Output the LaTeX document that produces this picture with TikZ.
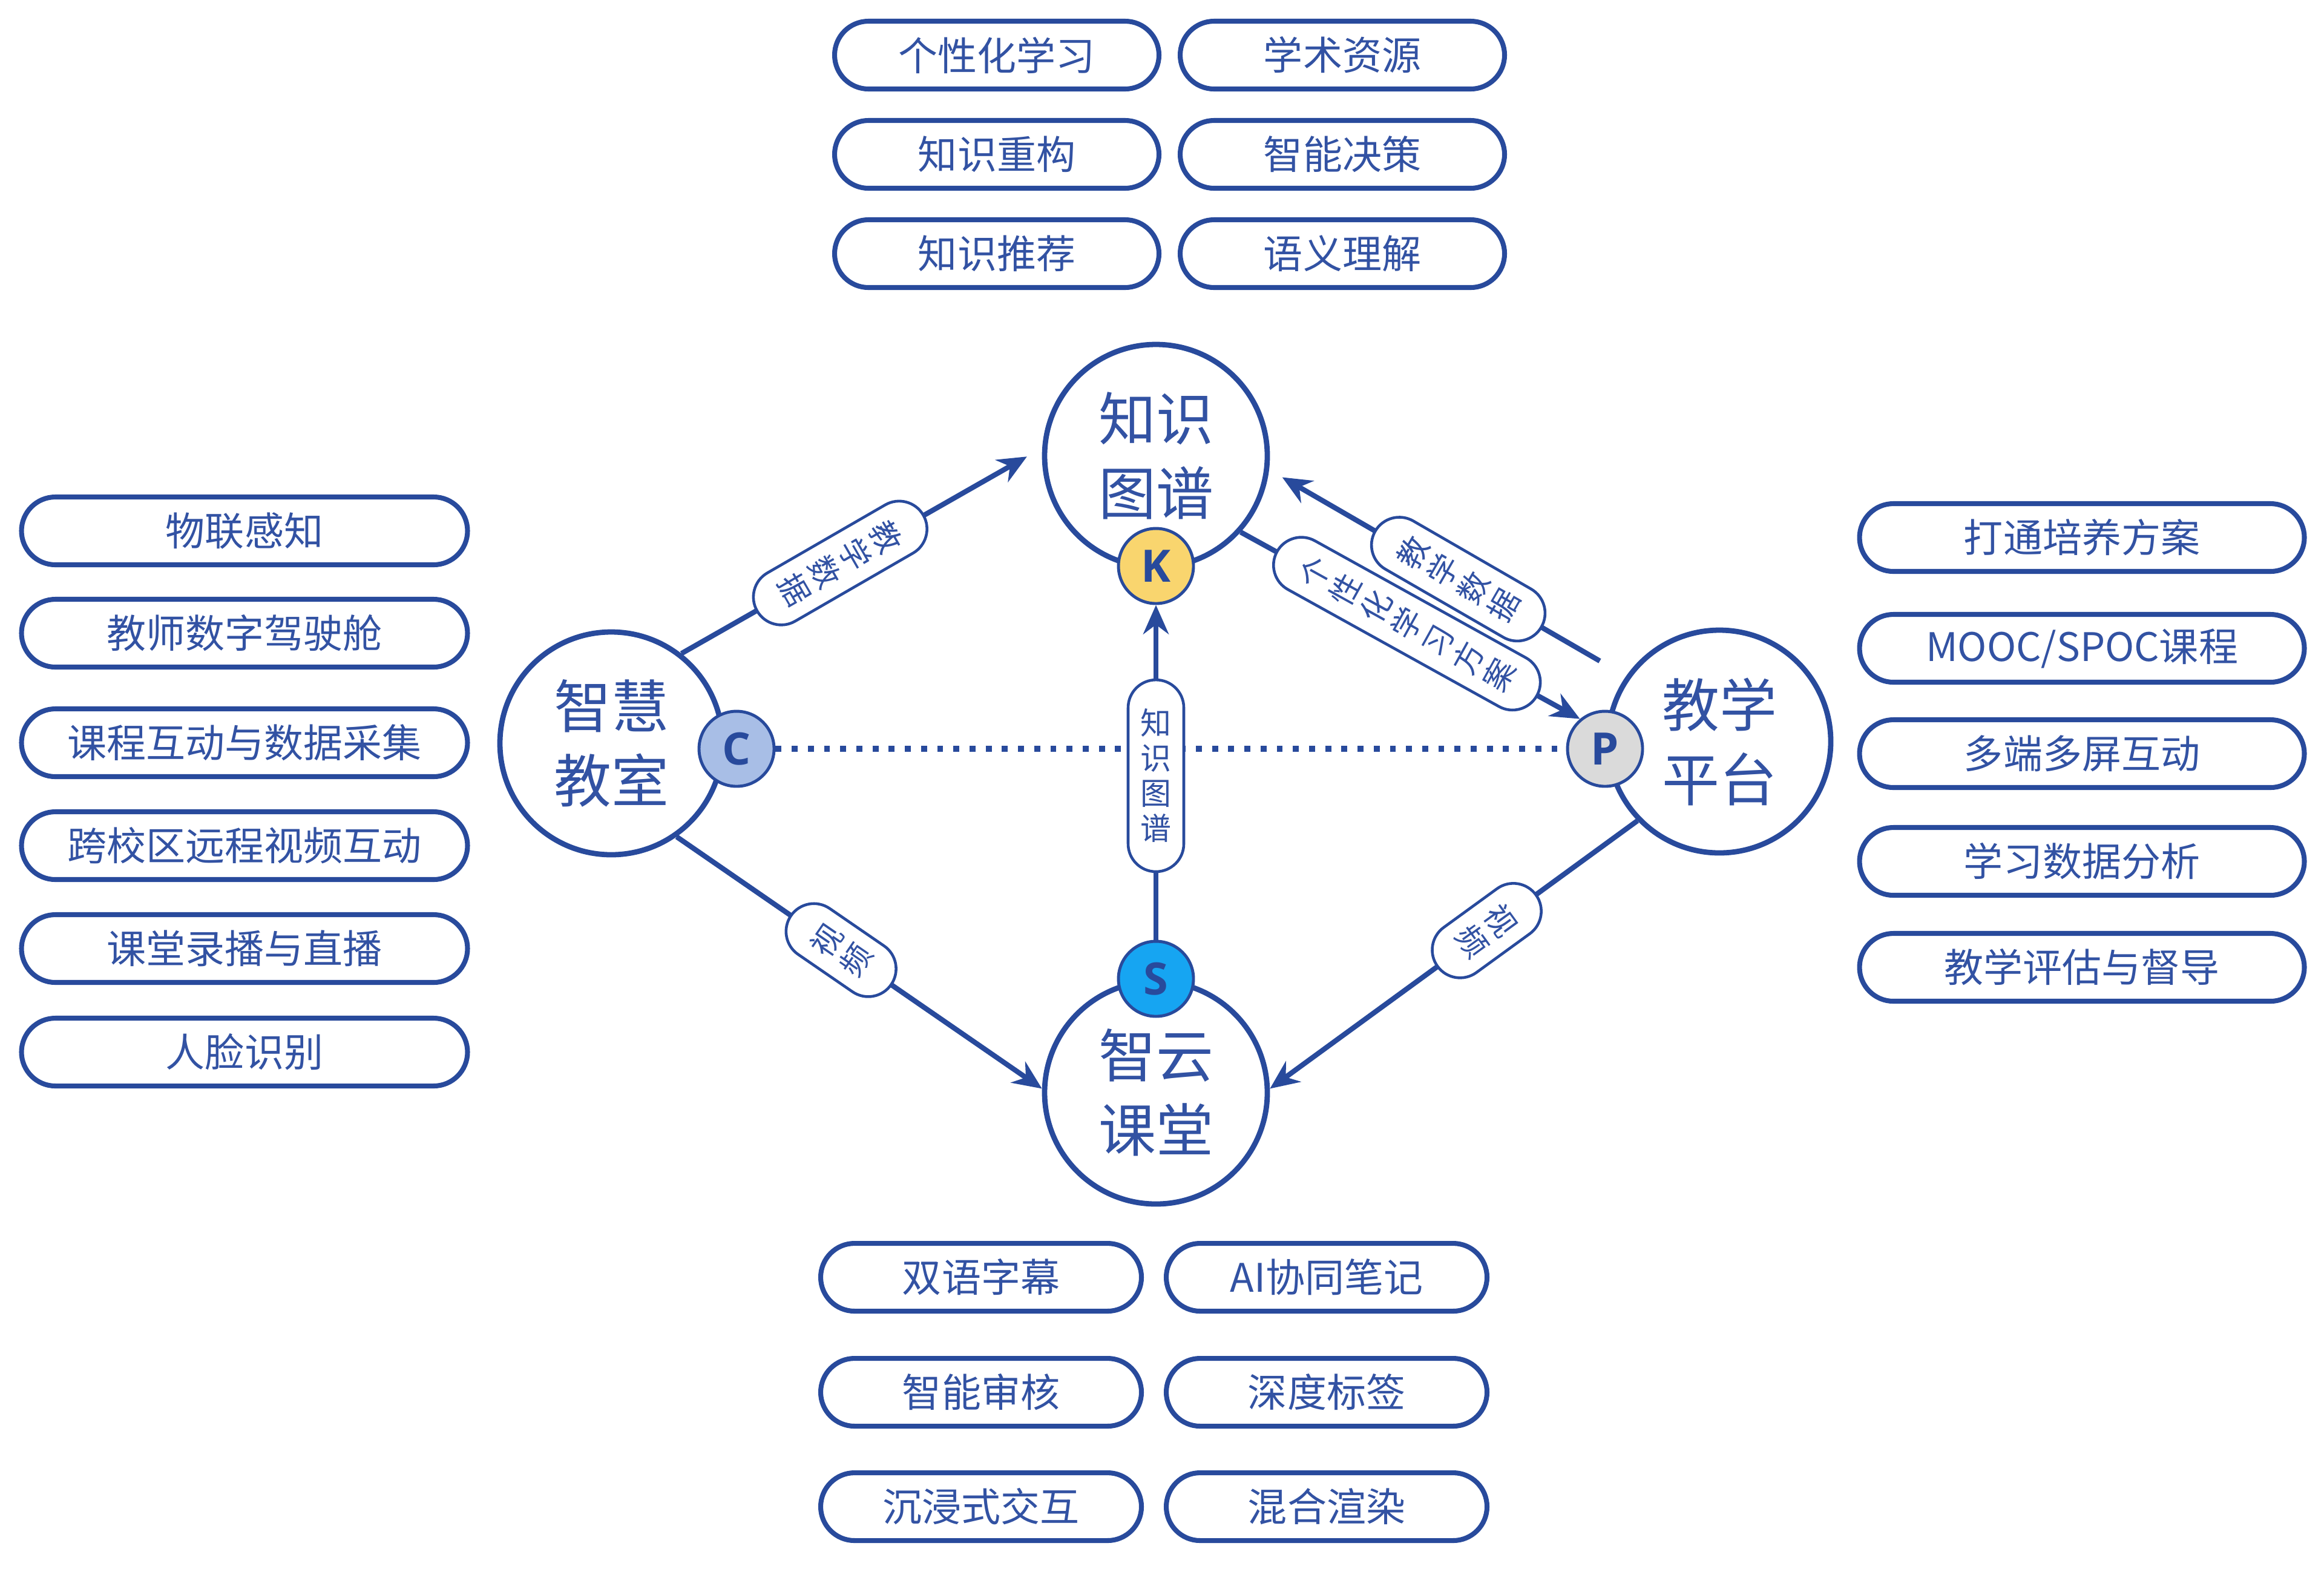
\documentclass[tikz,border=0pt]{standalone}
\usepackage{fontspec}
\setmainfont{Noto Sans CJK SC}
\newfontfamily\letterfont{Open Sans}
\usetikzlibrary{arrows.meta}
\definecolor{navy}{RGB}{40,74,156}
\definecolor{inkblue}{RGB}{50,82,163}
\definecolor{badgeK}{RGB}{249,213,110}
\definecolor{badgeC}{RGB}{168,190,230}
\definecolor{badgeP}{RGB}{218,218,218}
\definecolor{badgeS}{RGB}{22,165,242}
\begin{document}
\begin{tikzpicture}[
  hub/.style={draw=navy,line width=2.5pt,circle,fill=white,minimum size=3.68cm,inner sep=0pt,align=center,text=inkblue,font=\fontsize{27}{35}\selectfont},
  badge/.style={draw=navy,line width=1.4pt,circle,minimum size=1.24cm,inner sep=0pt,text=navy,font=\letterfont\bfseries\fontsize{21}{21}\selectfont},
  tag/.style={draw=navy,line width=2.3pt,fill=white,rounded corners=0.56cm,minimum height=1.12cm,inner sep=0pt,text=inkblue,font=\fontsize{18.5}{18.5}\selectfont},
  elab/.style={draw=navy,line width=1.3pt,fill=white,rounded corners=0.46cm,minimum width=0.92cm,inner xsep=0.2cm,inner ysep=0.48cm,align=center,text=inkblue,font=\fontsize{14.5}{16.5}\selectfont},
  link/.style={draw=navy,line width=2.4pt,-{Stealth[length=0.48cm,width=0.42cm]}}]
\fill[white] (0,0) rectangle (38.4,-25.91);
\useasboundingbox (0,0) rectangle (38.4,-25.91);

\node[tag,minimum width=5.36cm] (t1) at (16.47,-0.91) {个性化学习};
\node[tag,minimum width=5.36cm] (t2) at (22.18,-0.91) {学术资源};
\node[tag,minimum width=5.36cm] (t3) at (16.47,-2.55) {知识重构};
\node[tag,minimum width=5.36cm] (t4) at (22.18,-2.55) {智能决策};
\node[tag,minimum width=5.36cm] (t5) at (16.47,-4.19) {知识推荐};
\node[tag,minimum width=5.36cm] (t6) at (22.18,-4.19) {语义理解};

\node[tag,minimum width=7.37cm] (l1) at (4.04,-8.77) {物联感知};
\node[tag,minimum width=7.37cm] (l2) at (4.04,-10.46) {教师数字驾驶舱};
\node[tag,minimum width=7.37cm] (l3) at (4.04,-12.27) {课程互动与数据采集};
\node[tag,minimum width=7.37cm] (l4) at (4.04,-13.97) {跨校区远程视频互动};
\node[tag,minimum width=7.37cm] (l5) at (4.04,-15.67) {课堂录播与直播};
\node[tag,minimum width=7.37cm] (l6) at (4.04,-17.38) {人脸识别};

\node[tag,minimum width=7.35cm] (r1) at (34.40,-8.88) {打通培养方案};
\node[tag,minimum width=7.35cm] (r2) at (34.40,-10.71) {MOOC/SPOC课程};
\node[tag,minimum width=7.35cm] (r3) at (34.40,-12.45) {多端多屏互动};
\node[tag,minimum width=7.35cm] (r4) at (34.40,-14.23) {学习数据分析};
\node[tag,minimum width=7.35cm] (r5) at (34.40,-15.98) {教学评估与督导};

\node[tag,minimum width=5.3cm] (b1) at (16.21,-21.10) {双语字幕};
\node[tag,minimum width=5.3cm] (b2) at (21.92,-21.10) {AI协同笔记};
\node[tag,minimum width=5.3cm] (b3) at (16.21,-23.00) {智能审核};
\node[tag,minimum width=5.3cm] (b4) at (21.92,-23.00) {深度标签};
\node[tag,minimum width=5.3cm] (b5) at (16.21,-24.89) {沉浸式交互};
\node[tag,minimum width=5.3cm] (b6) at (21.92,-24.89) {混合渲染};

\node[hub] (K) at (19.1,-7.53) {知识\\图谱};
\node[hub] (C) at (10.10,-12.28) {智慧\\教室};
\node[hub] (P) at (28.41,-12.25) {教学\\平台};
\node[hub] (S) at (19.1,-18.05) {智云\\课堂};
\node[badge,fill=badgeK] (kb) at (19.1,-9.35) {K};
\node[badge,fill=badgeC] (cb) at (12.17,-12.37) {C};
\node[badge,fill=badgeP] (pb) at (26.52,-12.37) {P};
\node[badge,fill=badgeS] (sb) at (19.1,-16.17) {S};

\draw[navy,line width=2.8pt,dash pattern=on 2.8pt off 4.8pt] (cb) -- (pb);
\draw[link,shorten >=0.29cm] (C.52) -- (K.176) node[elab,pos=0.44,rotate=-60] {教\\学\\数\\据};
\draw[link,shorten <=0.5cm,shorten >=0.25cm] (P.145) -- (K.-7) node[elab,pos=0.47,rotate=60] {教\\学\\数\\据};
\draw[link] (K.-42) -- (pb.130) node[elab,pos=0.49,rotate=61] {个\\性\\化\\学\\习\\方\\案};
\draw[link] (sb) -- (kb) node[elab,pos=0.49] {知\\识\\图\\谱};
\draw[link] (C.-55) -- (S.178) node[elab,pos=0.45,rotate=55.5] {视\\频};
\draw[link] (P.-136) -- (S.2) node[elab,pos=0.41,rotate=-54] {视\\频};
\end{tikzpicture}
\end{document}
